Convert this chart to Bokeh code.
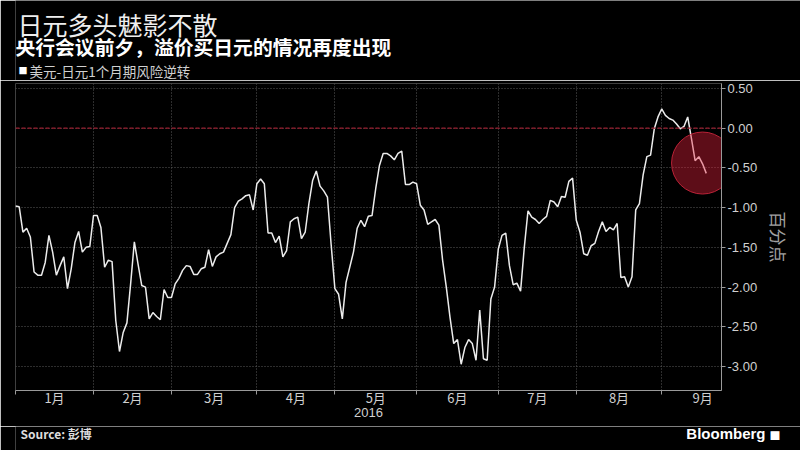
import numpy as np
from bokeh.plotting import figure
from bokeh.layouts import column
from bokeh.models import Range1d, FixedTicker, Label, Span, NumeralTickFormatter
from bokeh.embed import file_html
from bokeh.resources import INLINE

# ---------------- data ----------------
title_text = "日元多头魅影不散"
subtitle_text = "央行会议前夕，溢价买日元的情况再度出现"
series_name = "美元-日元1个月期风险逆转"
y_axis_label = "百分点"
year_label = "2016"
source_text = "Source: 彭博"
brand_text = "Bloomberg"

start_date = "2016-01-01"
month_starts = ["2016-01-01", "2016-02-01", "2016-03-01", "2016-04-01", "2016-05-01",
                "2016-06-01", "2016-07-01", "2016-08-01", "2016-09-01", "2016-10-01"]
month_labels = ["1月", "2月", "3月", "4月", "5月", "6月", "7月", "8月", "9月"]

# USD-JPY 1-month risk reversal, one value per business day from 2016-01-01
risk_reversal = [
    -0.98, -0.99, -1.31, -1.26, -1.37, -1.81, -1.85, -1.85, -1.69, -1.35,
    -1.56, -1.85, -1.73, -1.62, -2.02, -1.77, -1.44, -1.30, -1.56, -1.50,
    -1.49, -1.10, -1.10, -1.25, -1.75, -1.66, -1.68, -2.42, -2.81, -2.57,
    -2.45, -1.96, -1.43, -1.71, -1.98, -2.00, -2.40, -2.32, -2.37, -2.41,
    -2.03, -2.13, -2.13, -1.96, -1.89, -1.79, -1.73, -1.74, -1.84, -1.84,
    -1.77, -1.75, -1.53, -1.74, -1.62, -1.58, -1.56, -1.45, -1.34, -1.00,
    -0.92, -0.89, -0.85, -0.84, -1.03, -0.70, -0.64, -0.70, -1.32, -1.32,
    -1.44, -1.36, -1.62, -1.54, -1.18, -1.14, -1.12, -1.39, -1.31, -0.95,
    -0.66, -0.54, -0.73, -0.79, -0.87, -1.47, -2.02, -2.09, -2.40, -1.94,
    -1.75, -1.56, -1.26, -1.16, -1.24, -1.11, -1.10, -0.76, -0.47, -0.32,
    -0.32, -0.35, -0.40, -0.32, -0.29, -0.71, -0.71, -0.68, -0.70, -0.97,
    -1.03, -1.21, -1.18, -1.15, -1.22, -1.66, -2.00, -2.38, -2.71, -2.66,
    -2.97, -2.76, -2.66, -2.71, -2.92, -2.29, -2.90, -2.92, -2.15, -2.00,
    -1.52, -1.35, -1.32, -1.73, -1.97, -1.95, -2.05, -1.50, -1.04, -1.12,
    -1.15, -1.20, -1.15, -1.11, -0.91, -0.93, -0.99, -0.86, -0.87, -0.67,
    -0.63, -1.16, -1.31, -1.58, -1.60, -1.48, -1.45, -1.30, -1.18, -1.30,
    -1.25, -1.28, -1.20, -1.88, -1.87, -2.00, -1.87, -1.03, -0.95, -0.59,
    -0.36, -0.34, -0.01, 0.14, 0.24, 0.16, 0.12, 0.10, 0.05, -0.01,
    0.02, 0.14, -0.13, -0.41, -0.36, -0.45, -0.57,
]

y_ticks = [0.5, 0.0, -0.5, -1.0, -1.5, -2.0, -2.5, -3.0]
highlight_index = 185
highlight_value = -0.44

# ---------------- positions (business-day index) ----------------
x = list(range(len(risk_reversal)))
boundaries = [int(v) for v in np.busday_count(start_date, month_starts)]
mids = [(a + b) / 2 for a, b in zip(boundaries[:-1], boundaries[1:])]

FONT_CJK = "Noto Sans CJK SC"
FONT_NUM = "Liberation Sans"
W = 800
LEFT = 15          # frame left edge; header/footer frames are aligned to it
HEADER_H = 80
FOOTER_H = 24


def blank_panel(height):
    f = figure(frame_width=W, frame_height=height, output_backend="svg",
               toolbar_location=None, x_range=Range1d(0, 1), y_range=Range1d(0, 1),
               tools="", x_axis_location=None, y_axis_location=None)
    f.min_border_left = 0
    f.min_border_right = 0
    f.min_border_top = 0
    f.min_border_bottom = 0
    f.grid.visible = False
    f.outline_line_color = None
    f.background_fill_color = "black"
    f.border_fill_color = "black"
    return f


def add_text(fig, text, x0, y0, size, color="#ffffff", font=FONT_CJK, style="normal",
             align="left", baseline="middle"):
    fig.add_layout(Label(x=x0 - LEFT, y=y0, x_units="screen", y_units="screen", text=text,
                         text_font=font, text_font_size=size, text_color=color,
                         text_font_style=style, text_align=align,
                         text_baseline=baseline))


# ---------------- header ----------------
header = blank_panel(HEADER_H)
add_text(header, title_text, 17, 56.5, "25px", color="#eeeeee")
add_text(header, subtitle_text, 15, 34.5, "19.8px", color="#ffffff", style="bold")
add_text(header, "■", 18, 10, "9px", color="#ffffff")
add_text(header, series_name, 29, 10, "13.5px", color="#d0d0d0")

# ---------------- main chart ----------------
p = figure(frame_width=706, frame_height=307, output_backend="svg", toolbar_location=None,
           x_range=Range1d(0, 190.1), y_range=Range1d(-3.30, 0.56),
           y_axis_location="right", tools="")
p.min_border_left = LEFT
p.min_border_right = 79
p.min_border_top = 3
p.min_border_bottom = 36
p.background_fill_color = "black"
p.border_fill_color = "black"
p.outline_line_color = None

p.ygrid.ticker = FixedTicker(ticks=y_ticks)
p.ygrid.grid_line_color = "#5a5a5a"
p.ygrid.grid_line_dash = "1 2"
p.xgrid.ticker = FixedTicker(ticks=boundaries)
p.xgrid.grid_line_color = "#5a5a5a"
p.xgrid.grid_line_dash = "1 2"

ya = p.yaxis[0]
ya.ticker = FixedTicker(ticks=y_ticks)
ya.formatter = NumeralTickFormatter(format="0.00")
ya.axis_line_color = "#9a9a9a"
ya.major_tick_line_color = "#9a9a9a"
ya.major_tick_out = 4
ya.major_tick_in = 0
ya.minor_tick_line_color = None
ya.major_label_text_color = "#d0d0d0"
ya.major_label_text_font = FONT_NUM
ya.major_label_text_font_size = "13px"
ya.major_label_standoff = 2
ya.axis_label = y_axis_label
ya.axis_label_text_color = "#a0a0a0"
ya.axis_label_text_font = FONT_CJK
ya.axis_label_text_font_size = "17px"
ya.axis_label_text_font_style = "normal"
ya.axis_label_standoff = 6

xa = p.xaxis[0]
xa.ticker = FixedTicker(ticks=mids, minor_ticks=boundaries)
xa.major_label_overrides = {m: lab for m, lab in zip(mids, month_labels)}
xa.axis_line_color = "#9a9a9a"
xa.major_tick_line_color = None
xa.major_tick_out = 0
xa.major_tick_in = 0
xa.minor_tick_line_color = "#9a9a9a"
xa.minor_tick_out = 4
xa.minor_tick_in = 0
xa.major_label_text_color = "#d0d0d0"
xa.major_label_text_font = FONT_CJK
xa.major_label_text_font_size = "13px"
xa.major_label_standoff = -7
xa.axis_label = year_label
xa.axis_label_text_color = "#d0d0d0"
xa.axis_label_text_font = FONT_NUM
xa.axis_label_text_font_size = "13px"
xa.axis_label_text_font_style = "normal"
xa.axis_label_standoff = -2

p.add_layout(Span(location=0, dimension="width", line_color="#9a1c2e",
                  line_dash="4 2", line_width=1.2))

p.line(x, risk_reversal, line_color="#ececec", line_width=1.5)

p.scatter([highlight_index], [highlight_value], marker="circle", size=62,
          fill_color="#e8203c", fill_alpha=0.4,
          line_color="#c8263c", line_alpha=0.9, line_width=1)

# ---------------- footer ----------------
footer = blank_panel(FOOTER_H)
add_text(footer, source_text, 20, 17, "12px", color="#dddddd", style="bold")
add_text(footer, brand_text, 765, 17, "15px", color="#ffffff", font=FONT_NUM,
         style="bold", align="right")
add_text(footer, "■", 769, 16, "11px", color="#ffffff")

layout = column(header, p, footer, spacing=0)

open("out.html", "w").write(file_html(layout, INLINE))
